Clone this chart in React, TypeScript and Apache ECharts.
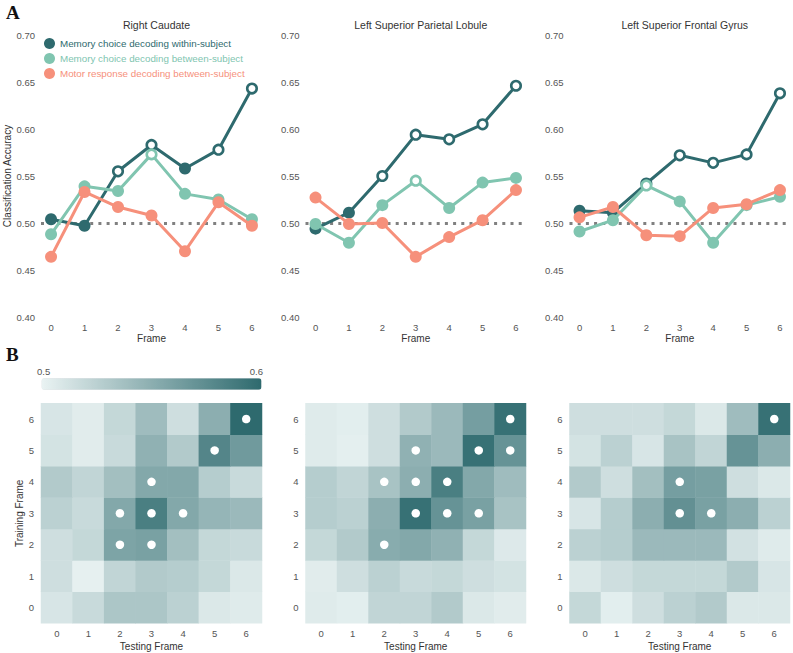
import React, { useEffect, useRef } from "react";
import * as echarts from "echarts";

// ---------- data ----------
const frames = [0, 1, 2, 3, 4, 5, 6];
const frameLabels = ["0", "1", "2", "3", "4", "5", "6"];
const regionTitles = ["Right Caudate", "Left Superior Parietal Lobule", "Left Superior Frontal Gyrus"];
const seriesNames = [
  "Memory choice decoding within-subject",
  "Memory choice decoding between-subject",
  "Motor response decoding between-subject",
];
const yTicks = [0.4, 0.45, 0.5, 0.55, 0.6, 0.65, 0.7];
const chanceLevel = 0.5;

// Right Caudate
const rcWithin = [0.504, 0.497, 0.555, 0.583, 0.558, 0.578, 0.643];
const rcWithinSig = [false, false, true, true, false, true, true];
const rcBetween = [0.488, 0.539, 0.534, 0.573, 0.531, 0.525, 0.504];
const rcBetweenSig = [false, false, false, true, false, false, false];
const rcMotor = [0.464, 0.533, 0.517, 0.508, 0.47, 0.522, 0.497];
const rcMotorSig = [false, false, false, false, false, false, false];

// Left Superior Parietal Lobule
const splWithin = [0.494, 0.511, 0.55, 0.594, 0.589, 0.605, 0.646];
const splWithinSig = [false, false, true, true, true, true, true];
const splBetween = [0.499, 0.479, 0.519, 0.545, 0.516, 0.543, 0.548];
const splBetweenSig = [false, false, false, true, false, false, false];
const splMotor = [0.527, 0.499, 0.5, 0.464, 0.485, 0.503, 0.535];
const splMotorSig = [false, false, false, false, false, false, false];

// Left Superior Frontal Gyrus
const sfgWithin = [0.513, 0.511, 0.542, 0.572, 0.564, 0.573, 0.638];
const sfgWithinSig = [false, false, true, true, true, true, true];
const sfgBetween = [0.491, 0.503, 0.54, 0.523, 0.479, 0.519, 0.528];
const sfgBetweenSig = [false, false, true, false, false, false, false];
const sfgMotor = [0.506, 0.517, 0.487, 0.486, 0.516, 0.52, 0.535];
const sfgMotorSig = [false, false, false, false, false, false, false];

// Temporal generalization matrices: rows = training frame 0..6, cols = testing frame 0..6
const rcMatrix = [
  [0.51, 0.518, 0.533, 0.533, 0.525, 0.508, 0.506],
  [0.515, 0.502, 0.522, 0.53, 0.528, 0.52, 0.508],
  [0.515, 0.52, 0.558, 0.56, 0.538, 0.52, 0.518],
  [0.525, 0.518, 0.555, 0.585, 0.555, 0.545, 0.542],
  [0.53, 0.522, 0.538, 0.555, 0.555, 0.528, 0.518],
  [0.512, 0.505, 0.518, 0.548, 0.53, 0.58, 0.565],
  [0.51, 0.505, 0.52, 0.54, 0.515, 0.55, 0.6],
];
const rcMatrixSig = [[6, 6], [5, 5], [3, 4], [2, 3], [3, 3], [4, 3], [2, 2], [3, 2]]; // [test, train]

const splMatrix = [
  [0.506, 0.504, 0.522, 0.522, 0.53, 0.508, 0.505],
  [0.505, 0.515, 0.525, 0.518, 0.52, 0.515, 0.512],
  [0.52, 0.53, 0.552, 0.555, 0.548, 0.52, 0.507],
  [0.528, 0.525, 0.55, 0.595, 0.57, 0.56, 0.535],
  [0.528, 0.522, 0.535, 0.55, 0.585, 0.555, 0.54],
  [0.506, 0.503, 0.515, 0.548, 0.542, 0.595, 0.57],
  [0.506, 0.504, 0.515, 0.53, 0.542, 0.562, 0.595],
];
const splMatrixSig = [[6, 6], [3, 5], [5, 5], [6, 5], [2, 4], [3, 4], [4, 4], [3, 3], [4, 3], [5, 3], [2, 2]];

const sfgMatrix = [
  [0.52, 0.504, 0.515, 0.525, 0.53, 0.508, 0.508],
  [0.508, 0.515, 0.52, 0.52, 0.52, 0.53, 0.51],
  [0.525, 0.528, 0.542, 0.542, 0.542, 0.513, 0.506],
  [0.51, 0.528, 0.55, 0.572, 0.56, 0.55, 0.525],
  [0.53, 0.515, 0.538, 0.562, 0.56, 0.515, 0.508],
  [0.512, 0.525, 0.51, 0.535, 0.522, 0.57, 0.55],
  [0.515, 0.515, 0.515, 0.52, 0.508, 0.54, 0.595],
];
const sfgMatrixSig = [[6, 6], [3, 4], [3, 3], [4, 3]];

const colorbarMin = 0.5;
const colorbarMax = 0.6;

// ---------- styling ----------
const COLORS = ["#2e6a6e", "#80c5b0", "#f6907b"];
const FONT = "'Liberation Sans', Arial, sans-serif";
const LABEL_COLOR = "#555555";
const GRID_LEFTS = [41, 305.5, 569.5];
const GRID_WIDTHS = [221, 220.5, 220.5];
const LINE_TOP = 35;
const LINE_H = 282;
const HM_TOP = 403.3;
const HM_H = 220;

const panels = [
  { lines: [rcWithin, rcBetween, rcMotor], sig: [rcWithinSig, rcBetweenSig, rcMotorSig], matrix: rcMatrix, msig: rcMatrixSig },
  { lines: [splWithin, splBetween, splMotor], sig: [splWithinSig, splBetweenSig, splMotorSig], matrix: splMatrix, msig: splMatrixSig },
  { lines: [sfgWithin, sfgBetween, sfgMotor], sig: [sfgWithinSig, sfgBetweenSig, sfgMotorSig], matrix: sfgMatrix, msig: sfgMatrixSig },
];

function buildOption() {
  const grid: any[] = [];
  const xAxis: any[] = [];
  const yAxis: any[] = [];
  const series: any[] = [];
  const title: any[] = [];
  const heatmapSeriesIdx: number[] = [];

  const labelStyle = { color: LABEL_COLOR, fontSize: 9.5, fontFamily: FONT };

  panels.forEach((p, pi) => {
    grid.push({ left: GRID_LEFTS[pi], top: LINE_TOP, width: GRID_WIDTHS[pi], height: LINE_H });
    xAxis.push({
      type: "value",
      gridIndex: pi,
      min: -0.3,
      max: 6.3,
      name: "Frame",
      nameLocation: "middle",
      nameGap: 16,
      nameTextStyle: { color: "#333", fontSize: 10, fontFamily: FONT },
      axisLine: { show: false },
      axisTick: { show: false },
      splitLine: { show: false },
      axisLabel: { ...labelStyle, margin: 5, customValues: frames, formatter: (v: number) => String(v) },
    });
    yAxis.push({
      type: "value",
      gridIndex: pi,
      min: 0.4,
      max: 0.7,
      interval: 0.05,
      name: pi === 0 ? "Classification Accuracy" : "",
      nameLocation: "middle",
      nameRotate: 90,
      nameGap: 27,
      nameTextStyle: { color: "#333", fontSize: 10, fontFamily: FONT },
      axisLine: { show: false },
      axisTick: { show: false },
      splitLine: { show: false },
      axisLabel: { ...labelStyle, margin: 6, customValues: yTicks, formatter: (v: number) => v.toFixed(2) },
    });
    title.push({
      text: regionTitles[pi],
      left: GRID_LEFTS[pi] + GRID_WIDTHS[pi] / 2,
      top: 14,
      textAlign: "center",
      textStyle: { color: "#333", fontSize: 10.5, fontWeight: "normal", fontFamily: FONT },
    });

    p.lines.forEach((vals, si) => {
      const c = COLORS[si];
      const s: any = {
        type: "line",
        name: seriesNames[si],
        xAxisIndex: pi,
        yAxisIndex: pi,
        symbol: "circle",
        symbolSize: 12,
        lineStyle: { color: c, width: 3 },
        itemStyle: { color: c, opacity: 1 },
        z: 2 + si,
        data: frames.map((f, i) => {
          const sig = p.sig[si][i];
          return sig
            ? { value: [f, vals[i]], symbolSize: 9.5, itemStyle: { color: "#ffffff", borderColor: c, borderWidth: 2.6 } }
            : { value: [f, vals[i]], symbolSize: 12, itemStyle: { color: c } };
        }),
      };
      if (si === 0) {
        s.markLine = {
          silent: true,
          symbol: ["none", "none"],
          label: { show: false },
          lineStyle: { color: "#808080", width: 3, type: [3, 5.2], cap: "butt" },
          data: [{ yAxis: chanceLevel }],
          z: 1,
        };
      }
      series.push(s);
    });
  });

  panels.forEach((p, pi) => {
    const gi = 3 + pi;
    grid.push({ left: GRID_LEFTS[pi], top: HM_TOP, width: GRID_WIDTHS[pi], height: HM_H });
    xAxis.push({
      type: "category",
      gridIndex: gi,
      data: frameLabels,
      name: "Testing Frame",
      nameLocation: "middle",
      nameGap: 18,
      nameTextStyle: { color: "#333", fontSize: 10, fontFamily: FONT },
      axisLine: { show: false },
      axisTick: { show: false },
      splitLine: { show: false },
      axisLabel: { ...labelStyle, margin: 5 },
    });
    yAxis.push({
      type: "category",
      gridIndex: gi,
      data: frameLabels,
      name: pi === 0 ? "Training Frame" : "",
      nameLocation: "middle",
      nameRotate: 90,
      nameGap: 15,
      nameTextStyle: { color: "#333", fontSize: 10, fontFamily: FONT },
      axisLine: { show: false },
      axisTick: { show: false },
      splitLine: { show: false },
      axisLabel: { ...labelStyle, margin: 7 },
    });
    const hdata: number[][] = [];
    p.matrix.forEach((row, train) => row.forEach((v, test) => hdata.push([test, train, v])));
    heatmapSeriesIdx.push(series.length);
    series.push({
      type: "heatmap",
      xAxisIndex: gi,
      yAxisIndex: gi,
      data: hdata,
      itemStyle: { borderWidth: 0 },
      emphasis: { disabled: true },
      z: 1,
    });
    series.push({
      type: "scatter",
      xAxisIndex: gi,
      yAxisIndex: gi,
      symbol: "circle",
      symbolSize: 8.5,
      itemStyle: { color: "#ffffff", opacity: 1 },
      emphasis: { disabled: true },
      data: p.msig,
      z: 3,
    });
  });

  return {
    animation: false,
    backgroundColor: "#ffffff",
    textStyle: { fontFamily: FONT },
    title,
    legend: {
      orient: "vertical",
      left: 44,
      top: 38,
      padding: 0,
      itemGap: 4,
      itemWidth: 11,
      itemHeight: 11,
      icon: "circle",
      selectedMode: false,
      textStyle: { fontSize: 9.8, fontFamily: FONT },
      data: seriesNames.map((n, i) => ({ name: n, itemStyle: { color: COLORS[i] }, textStyle: { color: COLORS[i] } })),
    },
    grid,
    xAxis,
    yAxis,
    visualMap: {
      type: "continuous",
      seriesIndex: heatmapSeriesIdx,
      min: colorbarMin,
      max: colorbarMax,
      orient: "horizontal",
      left: 41.5,
      top: 378.3,
      padding: 0,
      itemWidth: 11.5,
      itemHeight: 220,
      text: null,
      showLabel: false,
      calculable: false,
      hoverLink: false,
      inRange: { color: ["#eaf3f3", "#2e6a6e"] },
    },
    graphic: [
      { type: "text", left: 6, top: 3, style: { text: "A", font: "bold 19px 'Liberation Serif', 'DejaVu Serif', serif", fill: "#111" } },
      { type: "text", left: 6, top: 345, style: { text: "B", font: "bold 19px 'Liberation Serif', 'DejaVu Serif', serif", fill: "#111" } },
      { type: "text", left: 37, top: 366.5, style: { text: String(colorbarMin), font: `9.5px ${FONT}`, fill: LABEL_COLOR } },
      { type: "text", right: 793 - 263, top: 366.5, style: { text: String(colorbarMax), font: `9.5px ${FONT}`, fill: LABEL_COLOR } },
    ],
    series,
  };
}

export default function App() {
  const ref = useRef<HTMLDivElement>(null);
  useEffect(() => {
    document.body.style.margin = "0";
    if (!ref.current) return;
    const chart = echarts.init(ref.current, null, { renderer: "svg" });
    chart.setOption(buildOption() as any);
    return () => chart.dispose();
  }, []);
  return <div ref={ref} style={{ width: 793, height: 653 }} />;
}
